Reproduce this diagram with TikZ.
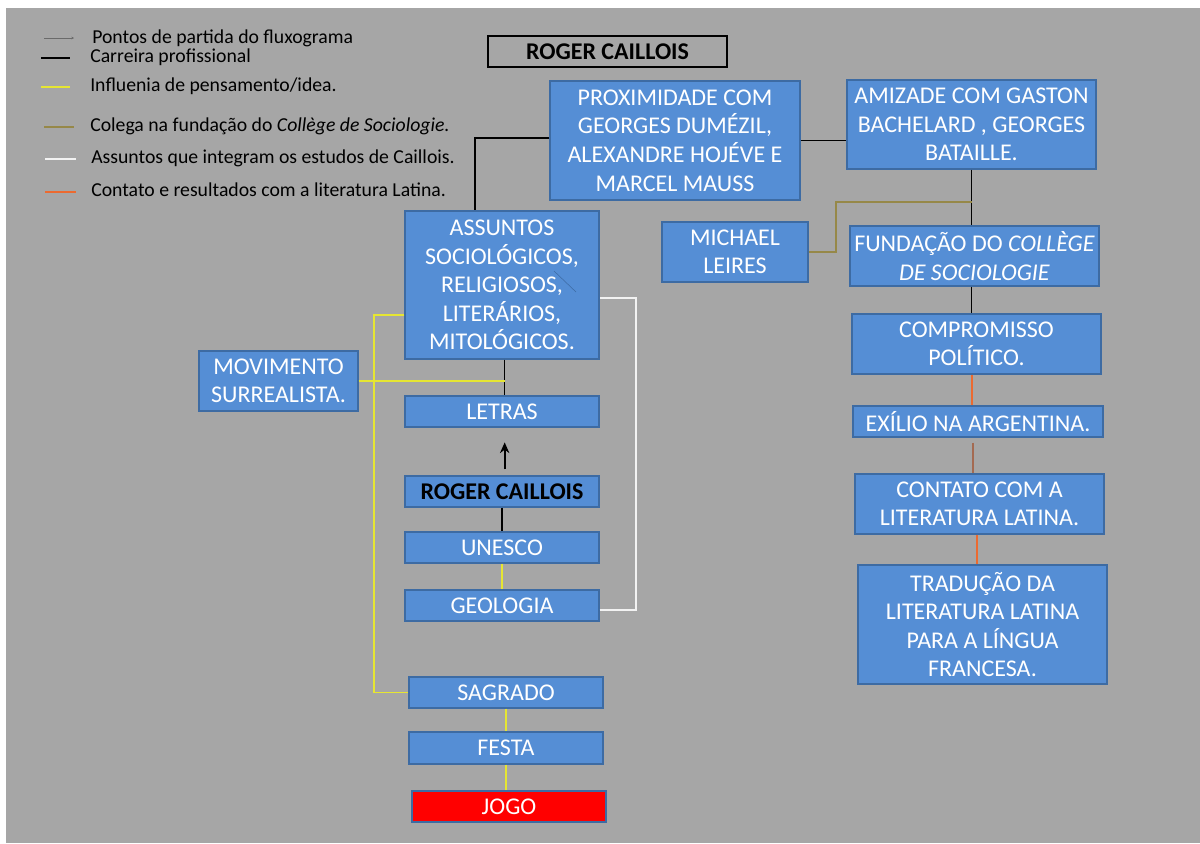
\documentclass[tikz,border=0pt]{standalone}
\usepackage{fontspec}
\setmainfont{Carlito}
\usetikzlibrary{calc,arrows.meta}
\definecolor{bg}{HTML}{A6A6A6}
\definecolor{boxfill}{HTML}{558ED5}
\definecolor{boxline}{HTML}{3D6BA3}
\definecolor{ylw}{HTML}{E6E632}
\definecolor{olv}{HTML}{968848}
\definecolor{orng}{HTML}{EC6A30}
\definecolor{lgray}{HTML}{6A6A6A}
\definecolor{wht}{HTML}{F2F2F2}

% box with corners (x1,y1)-(x2,y2) in pixel units
\newcommand\bx[7][]{%
  \node[box,#1,minimum width={(#5-#3)*0.75pt},minimum height={(#6-#4)*0.75pt}]
    (#2) at ({(#3+#5)/2},{(#4+#6)/2}) {#7};}

\begin{document}
\begin{tikzpicture}[x=0.75pt,y=-0.75pt,
  box/.style={draw=boxline,fill=boxfill,line width=1.1pt,inner sep=0pt,
    align=center,text=white,font=\fontsize{18}{21.4}\selectfont},
  legtext/.style={anchor=west,inner sep=0pt,font=\fontsize{14.8}{16}\selectfont,text=black},
  car/.style={draw=black,line width=1pt},
  infl/.style={draw=ylw,line width=1.2pt},
  coleg/.style={draw=olv,line width=1.2pt},
  subj/.style={draw=wht,line width=1.3pt},
  latin/.style={draw=orng,line width=1.5pt}]

% page and gray panel
\fill[white] (0,0) rectangle (1200,843);
\fill[bg] (6,8) rectangle (1200,843);
\useasboundingbox (0,0) rectangle (1200,843);

% legend
\draw[lgray,line width=0.5pt,-{Stealth[length=2pt,width=2pt]}] (44,38) -- (74,38);
\node[legtext] (l1) at (92,38.5) {Pontos de partida do fluxograma};
\draw[car] (41,58) -- (70,58);
\node[legtext] (l2) at (90,57.5) {Carreira profissional};
\draw[infl] (41,87) -- (70,87);
\node[legtext] (l3) at (90,86) {Influenia de pensamento/idea.};
\draw[coleg] (44,127) -- (74,127);
\node[legtext] (l4) at (90,126) {Colega na fundação do \textit{Collège de Sociologie.}};
\draw[subj] (45,159) -- (76,159);
\node[legtext] (l5) at (91,158) {Assuntos que integram os estudos de Caillois.};
\draw[latin] (45,192) -- (76,192);
\node[legtext] (l6) at (91,190) {Contato e resultados com a literatura Latina.};

% title
\node[draw=black,line width=0.8pt,inner sep=0pt,minimum width={239*0.75pt},
  minimum height={31*0.75pt},font=\fontsize{18}{21}\selectfont\bfseries]
  (title) at (607.5,51.5) {ROGER CAILLOIS};

% right-hand branch
\bx{prox}{550}{81}{800}{200}{PROXIMIDADE COM\\GEORGES DUMÉZIL,\\ALEXANDRE HOJÉVE E\\MARCEL MAUSS}
\bx{amiz}{847}{80}{1096}{169}{AMIZADE COM GASTON\\BACHELARD , GEORGES\\BATAILLE.}
\bx{mich}{662}{222}{808}{282}{MICHAEL\\LEIRES}
\bx{fund}{850}{226}{1099}{286}{FUNDAÇÃO DO \textit{COLLÈGE}\\\textit{DE SOCIOLOGIE}}
\bx{comp}{852}{314}{1101}{374}{COMPROMISSO\\POLÍTICO.}
\bx{exil}{853}{406}{1103}{437}{EXÍLIO NA ARGENTINA.}
\bx{cont}{855}{474}{1104}{534}{CONTATO COM A\\LITERATURA LATINA.}
\bx{trad}{858}{565}{1107}{684}{TRADUÇÃO DA\\LITERATURA LATINA\\PARA A LÍNGUA\\FRANCESA.}

% left-hand branch
\bx{assu}{405}{211}{599}{359}{ASSUNTOS\\SOCIOLÓGICOS,\\RELIGIOSOS,\\LITERÁRIOS,\\MITOLÓGICOS.}
\draw[boxline,line width=0.4pt] (554,271) -- (576,292);
\bx{mov}{199}{351}{358}{411}{MOVIMENTO\\SURREALISTA.}
\bx{letr}{405}{396}{599}{427}{LETRAS}
\bx[text=black,font=\fontsize{18}{21}\selectfont\bfseries]{rc}{405}{476}{599}{507}{ROGER CAILLOIS}
\bx{unes}{405}{532}{599}{563}{UNESCO}
\bx{geol}{405}{590}{599}{621}{GEOLOGIA}
\bx{sagr}{409}{677}{603}{708}{SAGRADO}
\bx{fest}{409}{732}{603}{764}{FESTA}
\bx[fill=red]{jogo}{412}{791}{606}{822}{JOGO}

% professional career
\draw[car] ([yshift=1.9pt]prox.west) -| ([xshift=-20.25pt]assu.north);
\draw[car] (prox.east) -- (prox.east -| amiz.west);
\draw[car] (amiz.south) -- (amiz.south |- fund.north);
\draw[car] (amiz.south |- fund.south) -- (amiz.south |- comp.north);
\draw[car] ([xshift=2pt]assu.south) -- ([xshift=2pt]letr.north);
\draw[car] (rc.south) -- (unes.north);
\draw[car,line width=1.3pt,-{Stealth[length=8pt,width=7pt]},shorten <=4.5pt,shorten >=11pt]
  ([xshift=2pt]rc.north) -- ([xshift=2pt]letr.south);

% colleague in the Collège
\draw[coleg] (mich.east) -- ++(27,0) |- ($(amiz.south)+(0,32)$);

% latin literature
\draw[latin] ([xshift=0.6pt]amiz.south |- comp.south) -- ([xshift=0.6pt]amiz.south |- exil.north);
\draw[latin,draw=orng!55!bg!80!black,shorten <=3.75pt] ([xshift=1.2pt]amiz.south |- exil.south) -- ([xshift=1.2pt]amiz.south |- cont.north);
\draw[latin] ([xshift=-2pt]cont.south) -- ([xshift=-2pt]cont.south |- trad.north);

% influences
\draw[infl] (mov.east) -- ([xshift=2pt]mov.east -| assu.south);
\draw[infl] ($(assu.west)+(0,30)$) -- ++(-30,0) |- (sagr.west);
\draw[infl] (unes.south) -- (geol.north);
\draw[infl] (sagr.south) -- (fest.north);
\draw[infl] (fest.south) -- (jogo.north -| fest.south);

% subjects
\draw[subj] ($(geol.east)+(0,4.5)$) -- ++(36,0) |- ($(assu.east)+(0,13)$);
\end{tikzpicture}
\end{document}
